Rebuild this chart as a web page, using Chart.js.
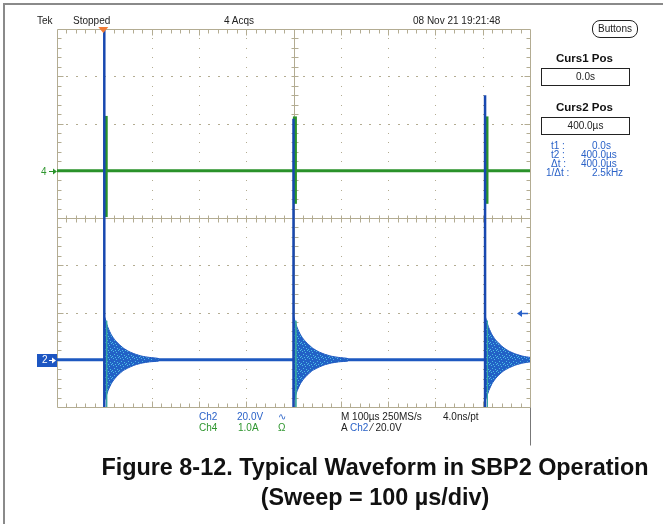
<!DOCTYPE html>
<html>
<head>
<meta charset="utf-8">
<script src="https://cdn.jsdelivr.net/npm/chart.js@4/dist/chart.umd.min.js"></script>
<style>
  body { margin: 0; background: #fff; }
  #wrap { position: relative; width: 663px; height: 524px; overflow: hidden; background: #fff;
          font-family: "Liberation Sans", Arial, sans-serif; }
  #frame { position: absolute; left: 3px; top: 3px; right: -10px; bottom: -10px;
           border-top: 2px solid #8a8a8a; border-left: 2px solid #8a8a8a; }
  #scope { position: absolute; left: 0; top: 0; }
  .t { position: absolute; font-size: 10px; line-height: 10px; white-space: nowrap; color: #222; }
  .blue { color: #2a62c8; }
  .green { color: #2f962f; }
  .box { position: absolute; border: 1px solid #222; background: #fff; text-align: center;
         font-size: 10px; color: #222; }
  .head { position: absolute; font-weight: bold; font-size: 11.5px; color: #111; }
  .title { position: absolute; left: 0; width: 750px; text-align: center; font-weight: bold;
           font-size: 23.4px; line-height: 23px; color: #111; }
</style>
</head>
<body>
<div id="wrap">
  <div id="frame"></div>
  <canvas id="scope" width="663" height="524"></canvas>

  <div class="t" style="left:37px;top:16px">Tek</div>
  <div class="t" style="left:73px;top:16px">Stopped</div>
  <div class="t" style="left:224px;top:16px">4 Acqs</div>
  <div class="t" style="left:413px;top:16px">08 Nov 21 19:21:48</div>
  <div class="box" style="left:592px;top:20px;width:44px;height:16px;line-height:16px;border-radius:8px;border-width:1.5px">Buttons</div>

  <div class="head" style="left:556px;top:52px">Curs1 Pos</div>
  <div class="box" style="left:541px;top:68px;width:87px;height:16px;line-height:16px">0.0s</div>
  <div class="head" style="left:556px;top:101px">Curs2 Pos</div>
  <div class="box" style="left:541px;top:117px;width:87px;height:16px;line-height:16px">400.0µs</div>

  <div class="t blue" style="left:551px;top:141px">t1 :</div>
  <div class="t blue" style="left:592px;top:141px">0.0s</div>
  <div class="t blue" style="left:551px;top:150px">t2 :</div>
  <div class="t blue" style="left:581px;top:150px">400.0µs</div>
  <div class="t blue" style="left:551px;top:159px">Δt :</div>
  <div class="t blue" style="left:581px;top:159px">400.0µs</div>
  <div class="t blue" style="left:546px;top:168px">1/Δt :</div>
  <div class="t blue" style="left:592px;top:168px">2.5kHz</div>

  <div class="t green" style="left:41px;top:167px">4</div>
  <div class="t" style="left:42px;top:355px;color:#fff">2</div>

  <div class="t blue" style="left:199px;top:412px">Ch2</div>
  <div class="t blue" style="left:237px;top:412px">20.0V</div>
  <div class="t blue" style="left:278px;top:412px">∿</div>
  <div class="t green" style="left:199px;top:423px">Ch4</div>
  <div class="t green" style="left:238px;top:423px">1.0A</div>
  <div class="t green" style="left:278px;top:423px">Ω</div>
  <div class="t" style="left:341px;top:412px">M 100µs 250MS/s</div>
  <div class="t" style="left:443px;top:412px">4.0ns/pt</div>
  <div class="t" style="left:341px;top:423px">A <span class="blue">Ch2</span> ⁄ 20.0V</div>

  <div class="title" style="top:456px">Figure 8-12. Typical Waveform in SBP2 Operation</div>
  <div class="title" style="top:486px">(Sweep = 100 µs/div)</div>
</div>

<script>
// time axis, µs (10 divisions of 100 µs)
const timeMin = -100;
const timeMax = 900;
const timeCursor2 = 400;
// switching edges seen on screen, µs
const eventTimes = [0, 400, 805];

// Ch2: 20 V/div, ground marker 3 div below centre
const ch2Scale = 20;
const ch2Offset = -3;
const ch2TrigLevel = 20;
const ch2SpikeTop = [170, 102, 112];
const ch2SpikeBottom = [-30, -30, -30];
// ringing envelope after each edge (time after edge in µs, volts)
const ringDt = [1, 3, 8, 15, 22, 30, 40, 52, 65, 80, 95, 115];
const ringUpper = [18, 16.5, 13.5, 10.5, 8.5, 6.8, 5, 3.5, 2.4, 1.5, 1, 0.5];
const ringLower = [-17, -16, -13, -10, -8, -6.3, -4.6, -3.3, -2.2, -1.4, -0.9, -0.5];

// Ch4: 1 A/div, ground marker 1 div above centre
const ch4Scale = 1;
const ch4Offset = 1;
const ch4SpikeTop = [1.16, 1.15, 1.15];
const ch4SpikeBottom = [-0.98, -0.7, -0.7];

const BLUE = '#1d58c0';
const DARKBLUE = '#1848b0';
const GREEN = '#2a922a';
const GRID = '#b3ac92';

const ch2 = v => ch2Offset + v / ch2Scale;
const ch4 = v => ch4Offset + v / ch4Scale;

// speckled fill for the persistence band
function speckle() {
    const c = document.createElement('canvas');
    c.width = 7; c.height = 7;
    const g = c.getContext('2d');
    g.fillStyle = '#2261c6';
    g.fillRect(0, 0, 7, 7);
    g.fillStyle = '#4cbde2';
    [[1, 1], [4, 2], [2, 4], [5, 5], [0, 6], [6, 0], [3, 0]].forEach(p => g.fillRect(p[0], p[1], 1, 1));
    return g.createPattern(c, 'repeat');
}
const bandFill = speckle();

const datasets = [];

// Ch2 edges (on top)
eventTimes.forEach((t, i) => {
    datasets.push({
        data: [{x: t, y: ch2(ch2SpikeBottom[i])}, {x: t, y: ch2(ch2SpikeTop[i])}],
        borderColor: DARKBLUE, borderWidth: 2.5, pointRadius: 0, showLine: true
    });
    datasets.push({
        data: [{x: t + 5, y: ch2(ringUpper[1])}, {x: t + 5, y: ch2(ch2SpikeBottom[i])}],
        borderColor: '#3aa6a0', borderWidth: 1, pointRadius: 0, showLine: true
    });
});

// Ch2 ringing band
eventTimes.forEach(t => {
    const pts = ringDt.map((d, k) => ({x: t + d, y: ch2(ringUpper[k])}));
    for (let k = ringDt.length - 1; k >= 0; k--) pts.push({x: t + ringDt[k], y: ch2(ringLower[k])});
    datasets.push({
        data: pts, showLine: true, fill: 'shape', backgroundColor: bandFill,
        borderColor: BLUE, borderWidth: 1, pointRadius: 0, tension: 0.2
    });
});

// Ch2 baseline
datasets.push({
    data: [{x: timeMin, y: ch2(0)}, {x: timeMax, y: ch2(0)}],
    borderColor: BLUE, borderWidth: 3, pointRadius: 0, showLine: true
});

// Ch4 spikes and baseline
eventTimes.forEach((t, i) => {
    datasets.push({
        data: [{x: t + 3, y: ch4(ch4SpikeBottom[i])}, {x: t + 3, y: ch4(ch4SpikeTop[i])}],
        borderColor: GREEN, borderWidth: 4, pointRadius: 0, showLine: true
    });
});
datasets.push({
    data: [{x: timeMin, y: ch4(0)}, {x: timeMax, y: ch4(0)}],
    borderColor: GREEN, borderWidth: 3, pointRadius: 0, showLine: true
});

// graticule under the traces
const graticule = {
    id: 'graticule',
    beforeDatasetsDraw(chart) {
        const {ctx, chartArea: a, scales: {x, y}} = chart;
        ctx.save();
        ctx.fillStyle = GRID;
        // dotted division lines
        for (let i = 1; i < 10; i++) {
            if (i === 5) continue;
            const px = Math.round(x.getPixelForValue(timeMin + i * 100));
            for (let m = 1; m < 40; m++) {
                const py = Math.round(y.getPixelForValue(-4 + m * 0.2));
                ctx.fillRect(px, py, 1, 1);
            }
        }
        for (let j = 1; j < 8; j++) {
            if (j === 4) continue;
            const py = Math.round(y.getPixelForValue(-4 + j));
            for (let m = 1; m < 50; m++) {
                const px = Math.round(x.getPixelForValue(timeMin + m * 20));
                ctx.fillRect(px, py, 2, 1);
            }
        }
        ctx.strokeStyle = GRID;
        ctx.lineWidth = 1;
        ctx.beginPath();
        const cx = Math.round(x.getPixelForValue(timeCursor2)) + 0.5;
        const cy = Math.round(y.getPixelForValue(0)) + 0.5;
        const L = Math.round(a.left) + 0.5, R = Math.round(a.right) + 0.5;
        const T = Math.round(a.top) + 0.5, B = Math.round(a.bottom) + 0.5;
        ctx.moveTo(L, cy); ctx.lineTo(R, cy);
        ctx.moveTo(cx, T); ctx.lineTo(cx, B);
        ctx.rect(L, T, R - L, B - T);
        // minor ticks along border and centre lines
        for (let m = 1; m < 50; m++) {
            const px = Math.round(x.getPixelForValue(timeMin + m * 20)) + 0.5;
            const len = m % 5 === 0 ? 6 : 4;
            ctx.moveTo(px, T); ctx.lineTo(px, T + len);
            ctx.moveTo(px, B); ctx.lineTo(px, B - len);
            ctx.moveTo(px, cy - 3); ctx.lineTo(px, cy + 4);
        }
        for (let m = 1; m < 40; m++) {
            const py = Math.round(y.getPixelForValue(-4 + m * 0.2)) + 0.5;
            const len = m % 5 === 0 ? 6 : 4;
            ctx.moveTo(L, py); ctx.lineTo(L + len, py);
            ctx.moveTo(R, py); ctx.lineTo(R - len, py);
            ctx.moveTo(cx - 3, py); ctx.lineTo(cx + 4, py);
        }
        ctx.stroke();
        // separator below the right edge
        ctx.strokeStyle = '#777';
        ctx.beginPath();
        ctx.moveTo(R, B); ctx.lineTo(R, B + 38);
        ctx.stroke();
        ctx.restore();
    },
    afterDatasetsDraw(chart) {
        const {ctx, chartArea: a, scales: {x, y}} = chart;
        ctx.save();
        // ch4 ground marker
        const y4 = Math.round(y.getPixelForValue(ch4(0))) + 0.5;
        ctx.strokeStyle = GREEN; ctx.fillStyle = GREEN; ctx.lineWidth = 1;
        ctx.beginPath(); ctx.moveTo(49, y4); ctx.lineTo(a.left - 1, y4); ctx.stroke();
        ctx.beginPath(); ctx.moveTo(a.left, y4); ctx.lineTo(a.left - 4, y4 - 3); ctx.lineTo(a.left - 4, y4 + 3); ctx.fill();
        // ch2 ground marker box
        const y2 = Math.round(y.getPixelForValue(ch2(0)));
        ctx.fillStyle = '#1d56c2';
        ctx.fillRect(37, y2 - 6, a.left - 37, 13);
        ctx.strokeStyle = '#fff'; ctx.fillStyle = '#fff';
        ctx.beginPath(); ctx.moveTo(49, y2 + 0.5); ctx.lineTo(a.left - 2, y2 + 0.5); ctx.stroke();
        ctx.beginPath(); ctx.moveTo(a.left - 1, y2 + 0.5); ctx.lineTo(a.left - 5, y2 - 2.5); ctx.lineTo(a.left - 5, y2 + 3.5); ctx.fill();
        // trigger level arrow
        const yt = Math.round(y.getPixelForValue(ch2(ch2TrigLevel))) + 0.5;
        ctx.strokeStyle = '#2a62c8'; ctx.fillStyle = '#2a62c8'; ctx.lineWidth = 1.5;
        ctx.beginPath(); ctx.moveTo(a.right - 2, yt); ctx.lineTo(a.right - 11, yt); ctx.stroke();
        ctx.beginPath(); ctx.moveTo(a.right - 13, yt); ctx.lineTo(a.right - 8, yt - 3.5); ctx.lineTo(a.right - 8, yt + 3.5); ctx.fill();
        // trigger position marker
        const xt = x.getPixelForValue(eventTimes[0]) - 1;
        ctx.fillStyle = '#f07a34';
        ctx.beginPath(); ctx.moveTo(xt - 5, a.top - 2); ctx.lineTo(xt + 5, a.top - 2); ctx.lineTo(xt, a.top + 4); ctx.fill();
        ctx.restore();
    }
};

new Chart(document.getElementById('scope'), {
    type: 'scatter',
    data: { datasets: datasets },
    options: {
        responsive: false,
        animation: false,
        devicePixelRatio: 1,
        layout: { padding: { left: 57, top: 29, right: 133, bottom: 117 } },
        plugins: { legend: { display: false }, tooltip: { enabled: false } },
        scales: {
            x: { type: 'linear', min: timeMin, max: timeMax, display: false },
            y: { type: 'linear', min: -4, max: 4, display: false }
        }
    },
    plugins: [graticule]
});
</script>
</body>
</html>
